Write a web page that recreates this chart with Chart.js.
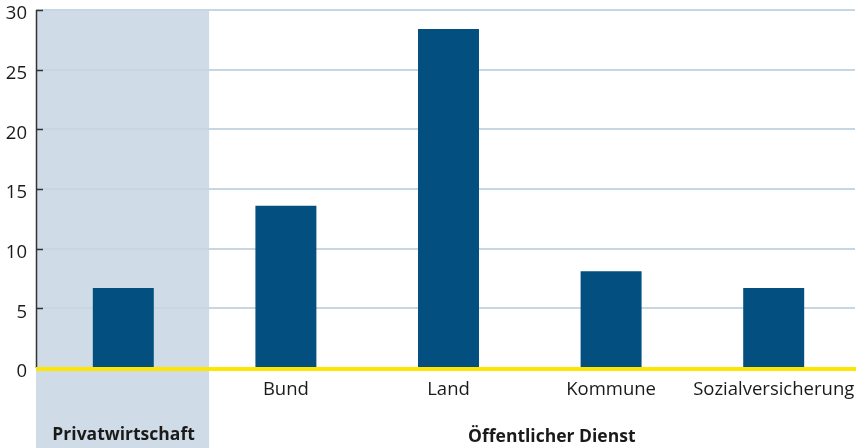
<!DOCTYPE html>
<html>
<head>
<meta charset="utf-8">
<script src="https://cdn.jsdelivr.net/npm/chart.js@4/dist/chart.umd.min.js"></script>
<style>
html,body{margin:0;padding:0;background:#fff;}
#wrap{position:relative;width:856px;height:448px;}
</style>
</head>
<body>
<div id="wrap"><canvas id="c" width="856" height="448"></canvas></div>
<script>
const categories = ["", "Bund", "Land", "Kommune", "Sozialversicherung"];
const groupLabels = ["Privatwirtschaft", "Öffentlicher Dienst"];
const values = [6.7, 13.6, 28.4, 8.1, 6.7];
const yTicks = [0, 5, 10, 15, 20, 25, 30];

const FONT = "'Open Sans', 'Noto Sans', sans-serif";

const decor = {
  id: 'decor',
  beforeDraw(chart) {
    const ctx = chart.ctx, x = chart.scales.x, y = chart.scales.y;
    ctx.save();
    const bandRight = (x.getPixelForValue(0) + x.getPixelForValue(1)) / 2 + 4.5;
    ctx.fillStyle = '#cfdce7';
    const top = y.getPixelForValue(30);
    ctx.fillRect(36, top, bandRight - 36, chart.height - top);
    ctx.restore();
  },
  afterDatasetsDraw(chart) {
    const ctx = chart.ctx, x = chart.scales.x, y = chart.scales.y;
    ctx.save();
    ctx.strokeStyle = '#333';
    ctx.lineWidth = 1.5;
    ctx.beginPath();
    ctx.moveTo(36.5, y.getPixelForValue(30));
    ctx.lineTo(36.5, y.getPixelForValue(0));
    ctx.stroke();
    yTicks.forEach(t => {
      if (t === 0) return;
      const py = Math.round(y.getPixelForValue(t)) + 0.5;
      ctx.beginPath();
      ctx.moveTo(36, py);
      ctx.lineTo(43, py);
      ctx.stroke();
    });
    ctx.fillStyle = '#ffe600';
    const y0 = y.getPixelForValue(0);
    ctx.fillRect(36, y0 - 1, chart.width - 36, 4);
    ctx.fillStyle = '#1a1a1a';
    ctx.font = "bold 17.5px " + FONT;
    ctx.textAlign = 'center';
    ctx.textBaseline = 'middle';
    const bandRight = (x.getPixelForValue(0) + x.getPixelForValue(1)) / 2 + 4.5;
    ctx.fillText(groupLabels[0], (36 + bandRight) / 2 + 1, 435);
    ctx.fillText(groupLabels[1], (x.getPixelForValue(1) + x.getPixelForValue(4)) / 2 + 22, 437);
    ctx.restore();
  }
};

new Chart(document.getElementById('c'), {
  type: 'bar',
  data: {
    labels: categories,
    datasets: [{
      data: values,
      backgroundColor: '#024f80',
      borderWidth: 0,
      barPercentage: 0.75,
      categoryPercentage: 0.5
    }]
  },
  options: {
    responsive: false,
    animation: false,
    devicePixelRatio: 1,
    layout: { padding: { top: 10, right: 1, bottom: 0, left: 0 } },
    plugins: { legend: { display: false }, tooltip: { enabled: false } },
    scales: {
      x: {
        grid: { display: false, drawTicks: false },
        border: { display: false },
        ticks: {
          color: '#1a1a1a',
          font: { family: FONT, size: 18.5 },
          padding: 11,
          maxRotation: 0,
          autoSkip: false
        },
        afterFit(s) { s.height = 80; s.paddingLeft = 0; s.paddingRight = 0; }
      },
      y: {
        min: 0, max: 30,
        afterBuildTicks(s) { s.ticks = yTicks.map(v => ({ value: v })); },
        grid: {
          color: (c) => c.tick && c.tick.value === 0 ? 'rgba(0,0,0,0)' : '#c6d6e3',
          lineWidth: 2,
          drawTicks: true,
          tickLength: 6,
          tickColor: '#c6d6e3'
        },
        border: { display: false },
        ticks: {
          color: '#1a1a1a',
          font: { family: FONT, size: 18.5, lineHeight: 0.05 },
          padding: 9,
          labelOffset: 4
        },
        afterFit(s) { s.width = 42; s.paddingTop = 0; s.paddingBottom = 0; }
      }
    }
  },
  plugins: [decor]
});
</script>
</body>
</html>
